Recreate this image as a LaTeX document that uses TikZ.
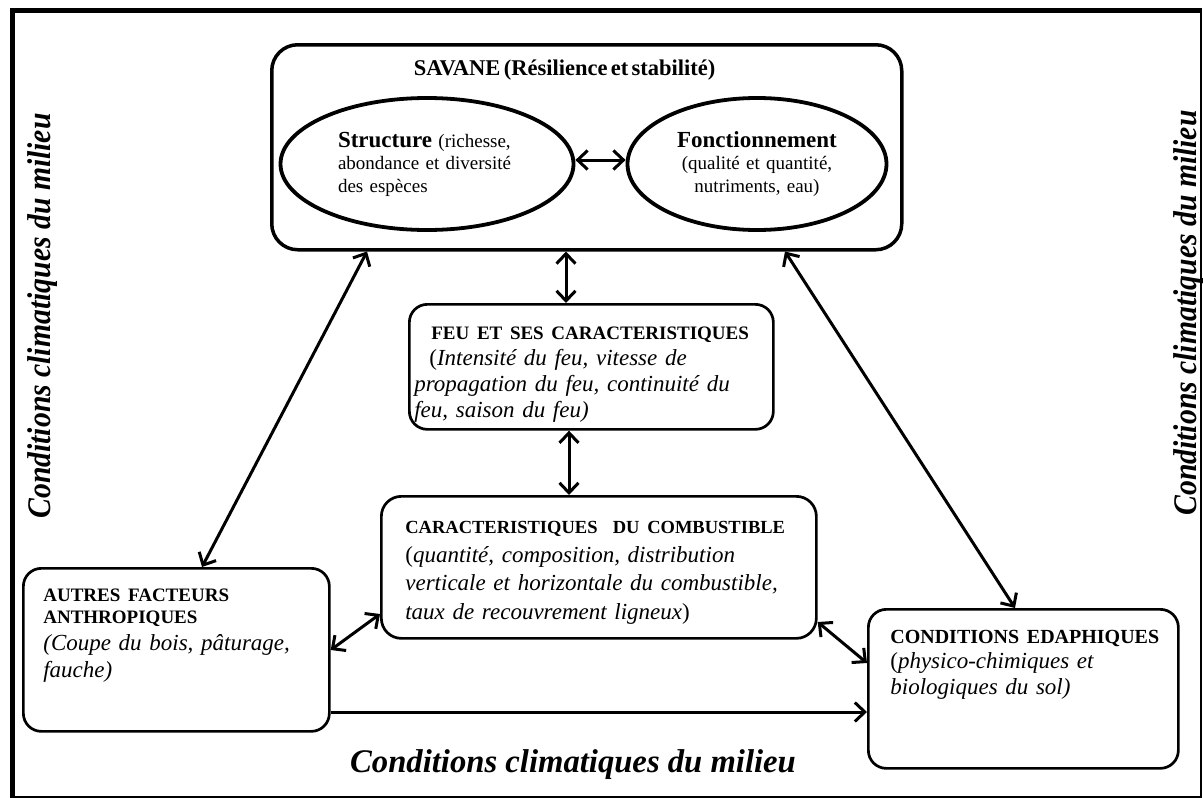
\documentclass[tikz,border=0pt]{standalone}
\usepackage{fontspec}
\setmainfont{Liberation Serif}
\usetikzlibrary{arrows.meta,shapes.geometric}
\begin{document}
\begin{tikzpicture}[x=1pt,y=-1pt,
  box/.style={draw, line width=2.7pt, rounded corners=18pt, anchor=north west,
    align=left, inner ysep=0pt},
  oval/.style={draw, ellipse, line width=3.8pt, align=left, inner sep=0pt,
    font=\fontsize{19}{22.5}\selectfont},
  barb/.tip={Straight Barb[length=10pt,width=19pt]},
  link/.style={line width=3pt, barb-barb},
  oneway/.style={line width=3pt, -barb},
  side/.style={inner sep=0pt, font=\fontsize{33}{33}\selectfont\bfseries\itshape}]
\useasboundingbox (0,0) rectangle (1203,798);
% outer frame
\draw[line width=2pt] (12,10) rectangle (1201,796.5);
\draw[line width=5pt] (12.5,8) -- (12.5,798);
\draw[line width=5pt] (10,10.5) -- (1202,10.5);

% SAVANE box
\node[box, line width=3.5pt, rounded corners=26pt, inner xsep=142pt,
  text width=346pt, text height=30.5pt, text depth=174.5pt] (savane) at (270,43)
  {\fontsize{22.5}{26}\selectfont\bfseries\mbox{SAVANE (Résilience et stabilité)}};

% ellipses
\node[oval, minimum width=293pt, minimum height=132pt, text width=178pt] (struct) at (427,164)
  {{\fontsize{23}{22.5}\selectfont\bfseries Structure} (richesse,\\
   abondance et diversité\\ des espèces};
\node[oval, minimum width=259pt, minimum height=132pt, text width=170pt, align=center] (fonct) at (757,164)
  {{\fontsize{23}{22.5}\selectfont\bfseries Fonctionnement}\\
   (qualité et quantité,\\ nutriments, eau)};

% FEU box
\node[box, inner xsep=5pt, text width=354pt, text height=35.5pt, text depth=89.5pt,
  font=\fontsize{23}{26}\selectfont] (feu) at (408,303)
  {\hspace*{17pt}\mbox{\fontsize{19}{26}\selectfont\bfseries FEU ET SES CARACTERISTIQUES}\\
   \hspace*{15pt}(\textit{Intensité du feu, vitesse de}\\
   \textit{propagation du feu, continuité du}\\
   \textit{feu, saison du feu)}};

% CARACT box
\node[box, rounded corners=20pt, inner xsep=24pt, text width=387pt, text height=37.5pt, text depth=104.5pt,
  font=\fontsize{23}{28.5}\selectfont] (comb) at (380,495)
  {\mbox{\fontsize{18.5}{28.5}\selectfont\bfseries CARACTERISTIQUES\ \ DU COMBUSTIBLE}\\
   (\textit{quantité, composition, distribution}\\
   \textit{verticale et horizontale du combustible,}\\
   \textit{taux de recouvrement ligneux})};

% AUTRES box
\node[box, inner xsep=20pt, text width=266pt, text height=33pt, text depth=130pt,
  font=\fontsize{23}{27}\selectfont] (autres) at (22,567)
  {{\fontsize{19}{22}\selectfont\bfseries AUTRES FACTEURS\\ ANTHROPIQUES\par}
   \itshape (Coupe du bois, pâturage,\\ fauche)};

% EDAPH box
\node[box, inner xsep=20pt, text width=270pt, text height=34pt, text depth=125pt,
  font=\fontsize{23}{25.5}\selectfont] (edaph) at (867,608)
  {\hspace*{2pt}\mbox{\fontsize{20}{25.5}\selectfont\bfseries CONDITIONS EDAPHIQUES}\\
   \hspace*{2pt}(\textit{physico-chimiques et}\\
   \hspace*{2pt}\textit{biologiques du sol)}};

% side texts
\node[side, rotate=90] (cleft) at (43,316)
  {\scalebox{0.9}[1]{Conditions climatiques du milieu}};
\node[side, rotate=90] (cright) at (1189,313)
  {\scalebox{0.9}[1]{Conditions climatiques du milieu}};
\node[side] (cbottom) at (573,765)
  {\scalebox{0.99}[1]{Conditions climatiques du milieu}};

% connectors
\draw[link] (struct.east |- 0,160) -- (fonct.west |- 0,160);
\draw[link] (savane.south -| 566,0) -- (feu.north -| 566,0);
\draw[link] (feu.south -| 569,0) -- (comb.north -| 569,0);
\draw[link] (savane.south -| 367,0) -- (autres.north -| 202,0);
\draw[link] (savane.south -| 785,0) -- (edaph.north -| 1015,0);
\draw[link] (autres.east |- 0,650) -- (comb.west |- 0,614);
\draw[link] (comb.east |- 0,622) -- (edaph.west |- 0,663);
\draw[oneway] (autres.east |- 0,712) -- (edaph.west |- 0,712);
\end{tikzpicture}
\end{document}
